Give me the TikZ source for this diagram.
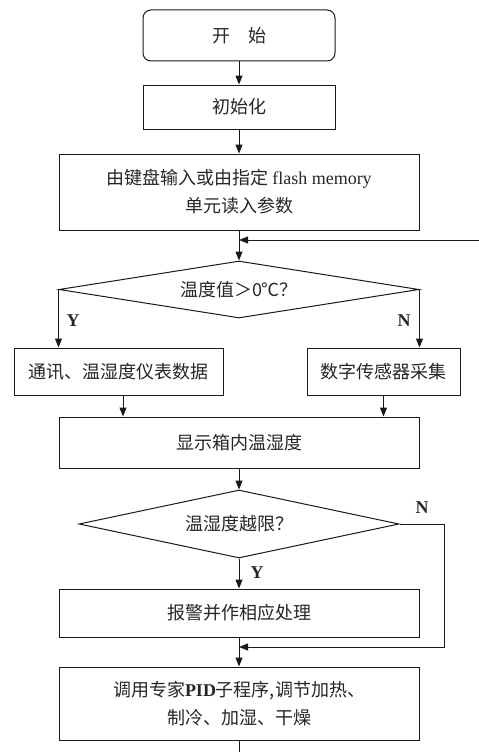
\documentclass[tikz,border=0pt]{standalone}
\usepackage{fontspec}
\setmainfont{Liberation Serif}
\newfontfamily\cjk{Noto Sans CJK SC}
\usetikzlibrary{shapes.geometric,arrows.meta,calc}
\begin{document}
\begin{tikzpicture}[x=1pt,y=-1pt,
  every node/.style={font=\cjk\fontsize{18}{28}\selectfont, text=black!85},
  box/.style={draw=black!90, line width=1pt, inner sep=0pt, align=center},
  dec/.style={draw=black!90, diamond, line width=1pt, inner sep=0pt},
  line/.style={line width=1pt, draw=black!90},
  arr/.style={line, -{Triangle[length=9pt,width=7pt]}},
  lab/.style={font=\fontsize{18}{18}\selectfont\bfseries}]
\useasboundingbox (0,0) rectangle (479,752);
\node[box, rounded corners=8pt, minimum width=192pt, minimum height=51pt] (start) at (239,35.5) {开\hspace{1em}始};
\node[box, minimum width=192pt, minimum height=44pt] (init) at (239,107) {初始化};
\node[box, minimum width=360pt, minimum height=76pt] (param) at (239,192) {由键盘输入或由指定 {\rmfamily flash memory}\\单元读入参数};
\node[dec, aspect=6.3, minimum width=360pt, minimum height=57pt] (d1) at (239,289.5) {温度值＞0℃？};
\node[box, minimum width=209pt, minimum height=47pt] (yb) at (118.5,371.5) {通讯、温湿度仪表数据};
\node[box, minimum width=153pt, minimum height=47pt] (nb) at (383.5,371.5) {数字传感器采集};
\node[box, minimum width=360pt, minimum height=51pt] (disp) at (239,442.5) {显示箱内温湿度};
\node[dec, aspect=4.7, minimum width=320pt, minimum height=68pt] (d2) at (239,524) {温湿度越限？};
\node[box, minimum width=360pt, minimum height=48pt] (alarm) at (239,613) {报警并作相应处理};
\node[box, minimum width=360pt, minimum height=73pt] (pid) at (239,703.5) {调用专家{\rmfamily\bfseries PID}子程序,调节加热、\\制冷、加湿、干燥};
\node[lab] (y1) at (73,321) {Y};
\node[lab] (n1) at (404,321) {N};
\node[lab] (n2) at (422,508) {N};
\node[lab] (y2) at (257,573) {Y};
\coordinate (in1) at (479,240);
\coordinate (j1) at (param.south |- in1);
\coordinate (corner) at (444,647);
\coordinate (j2) at (alarm.south |- corner);
\coordinate (out) at (239,752);
\draw[arr] (start) -- (init);
\draw[arr] (init) -- (param);
\draw[arr] (param.south) -- (d1.north);
\draw[arr] (in1) -- (j1);
\draw[arr] (d1.west) -- (d1.west |- yb.north);
\draw[arr] (d1.east) -- (d1.east |- nb.north);
\draw[arr] ([xshift=4.5pt]yb.south) -- ([xshift=4.5pt]yb.south |- disp.north);
\draw[arr] (nb.south) -- (nb.south |- disp.north);
\draw[arr] (disp) -- (d2);
\draw[arr] (d2) -- (alarm);
\draw[arr] (alarm) -- (pid);
\draw[arr] (d2.east) -- (corner |- d2.east) -- (corner) -- (j2);
\draw[line] (pid) -- (out);
\end{tikzpicture}
\end{document}
